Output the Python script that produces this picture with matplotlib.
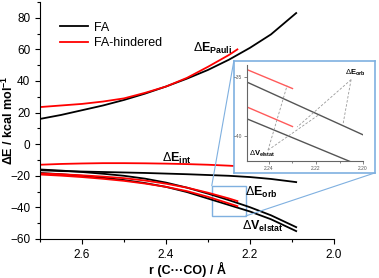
import matplotlib
matplotlib.use("Agg")
import matplotlib.pyplot as plt
from matplotlib.patches import Rectangle, ConnectionPatch
from matplotlib.ticker import MultipleLocator

plt.rcParams['font.family'] = ['Liberation Sans', 'DejaVu Sans']
plt.rcParams['mathtext.fontset'] = 'custom'
plt.rcParams['mathtext.rm'] = 'Liberation Sans'
plt.rcParams['mathtext.it'] = 'Liberation Sans:italic'
plt.rcParams['mathtext.bf'] = 'Liberation Sans:bold'

# FA curves (black)
r_fa = [2.70, 2.65, 2.60, 2.55, 2.50, 2.45, 2.40, 2.35, 2.30, 2.25, 2.20, 2.15, 2.09]
pauli_fa = [16.0, 18.5, 21.5, 24.5, 28.0, 32.0, 36.5, 41.5, 47.0, 53.5, 61.0, 69.5, 83.0]
int_fa = [-16.5, -17.0, -17.3, -17.6, -17.9, -18.2, -18.6, -19.0, -19.5, -20.0, -20.8, -22.0, -24.0]
orb_fa = [-16.0, -16.7, -17.6, -18.7, -20.0, -21.8, -24.3, -27.5, -31.3, -35.4, -39.9, -45.0, -52.5]
elstat_fa = [-18.2, -19.0, -20.0, -21.2, -22.7, -24.6, -27.0, -30.3, -34.4, -38.5, -42.6, -47.5, -55.0]

# FA-hindered curves (red)
r_fh = [2.70, 2.65, 2.60, 2.55, 2.50, 2.45, 2.40, 2.35, 2.30, 2.25, 2.23]
pauli_fh = [23.5, 24.5, 25.5, 27.0, 29.0, 32.5, 36.5, 42.0, 49.0, 56.5, 60.0]
int_fh = [-13.0, -12.5, -12.2, -12.0, -12.0, -12.1, -12.3, -12.6, -13.0, -13.6, -13.9]
orb_fh = [-18.5, -19.0, -19.7, -20.5, -21.5, -23.0, -25.0, -27.5, -30.7, -34.35, -36.0]
elstat_fh = [-19.2, -19.9, -20.8, -21.9, -23.2, -24.9, -27.0, -29.7, -33.3, -37.5, -39.2]

fig = plt.figure(figsize=(3.79, 2.78), dpi=100)
ax = fig.add_axes([0.1055, 0.1403, 0.7757, 0.8525])

lw = 1.3
ax.plot(r_fa, pauli_fa, color='black', lw=lw, label='FA')
ax.plot(r_fh, pauli_fh, color='red', lw=lw, label='FA-hindered')
for y in [int_fa, orb_fa, elstat_fa]:
    ax.plot(r_fa, y, color='black', lw=lw)
for y in [int_fh, orb_fh, elstat_fh]:
    ax.plot(r_fh, y, color='red', lw=lw)

ax.set_xlim(2.7, 2.0)
ax.set_ylim(-60, 90)
ax.set_xticks([2.6, 2.4, 2.2, 2.0])
ax.set_yticks([-60, -40, -20, 0, 20, 40, 60, 80])
ax.xaxis.set_minor_locator(MultipleLocator(0.1))
ax.yaxis.set_minor_locator(MultipleLocator(10))
ax.tick_params(labelsize=8.5, length=3.5, width=0.8)
ax.tick_params(which='minor', length=2, width=0.8)
ax.spines['top'].set_visible(False)
ax.spines['right'].set_visible(False)
fig.text(0.494, 0.032, 'r (C···CO) / Å', fontsize=9, fontweight='bold', ha='center', va='center')
fig.text(0.022, 0.567, r'ΔE / kcal mol$^{\mathbf{-1}}$', fontsize=9, fontweight='bold',
         ha='center', va='center', rotation=90)

ax.legend(loc='upper left', bbox_to_anchor=(0.03, 0.965), frameon=False, fontsize=9,
          handlelength=2.2, handletextpad=0.5, labelspacing=0.3)

lab = dict(fontsize=9, color='black')
ax.text(2.336, 58.5, r'$\Delta\mathbf{E}_{\mathbf{Pauli}}$', **lab)
ax.text(2.41, -11, r'$\Delta\mathbf{E}_{\mathbf{int}}$', **lab)
ax.text(2.213, -32.5, r'$\Delta\mathbf{E}_{\mathbf{orb}}$', **lab)
ax.text(2.22, -54, r'$\Delta\mathbf{V}_{\mathbf{elstat}}$', **lab)

# zoom box on the main plot
box_c = '#7fb0e0'
ax.add_patch(Rectangle((2.291, -45.4), 2.21 - 2.291, 19.1, fill=False, ec=box_c, lw=1))

# inset frame and inset axes
frame = fig.add_axes([0.617, 0.378, 0.372, 0.403])
frame.set_xticks([])
frame.set_yticks([])
for s in frame.spines.values():
    s.set_color(box_c)
    s.set_linewidth(1.2)

ins = fig.add_axes([0.6525, 0.421, 0.3055, 0.346])
ins.patch.set_alpha(0)
ins.plot(r_fa, orb_fa, color='#555555', lw=1)
ins.plot(r_fa, elstat_fa, color='#555555', lw=1)
ins.plot(r_fh, orb_fh, color='#ff5a5a', lw=1)
ins.plot(r_fh, elstat_fh, color='#ff5a5a', lw=1)
ins.set_xlim(2.2492, 2.20)
ins.set_ylim(-42.1, -34.0)
ins.set_xticks([2.24, 2.22, 2.20])
ins.set_yticks([-35, -40])
ins.xaxis.set_minor_locator(MultipleLocator(0.01))
ins.tick_params(labelsize=3.5, length=2, width=0.5, colors='#555555', pad=1.5)
ins.tick_params(which='minor', length=1.2, width=0.5, colors='#555555')
ins.spines['top'].set_visible(False)
ins.spines['right'].set_visible(False)
for s in ['left', 'bottom']:
    ins.spines[s].set_color('#666666')
    ins.spines[s].set_linewidth(0.8)

ins.text(2.2035, -34.66, r'$\Delta\mathbf{E}_{\mathbf{orb}}$', fontsize=5.5, ha='center', va='center')
ins.text(2.2485, -41.5, r'$\Delta\mathbf{V}_{\mathbf{elstat}}$', fontsize=5.5, ha='left', va='center')
dash = dict(color='#999999', lw=0.6, ls=(0, (3, 2)))
ins.plot([2.2051, 2.2085], [-35.25, -38.98], **dash)
ins.plot([2.2051, 2.228], [-35.25, -39.24], **dash)
ins.plot([2.2404, 2.2323], [-41.19, -35.76], **dash)
ins.plot([2.2404, 2.2183], [-41.19, -38.14], **dash)

# connector lines from the zoom box to the inset frame
for xy_main, xy_frame in [((2.291, -26.3), (0, 1)), ((2.21, -45.4), (1, 0))]:
    con = ConnectionPatch(xyA=xy_main, coordsA=ax.transData, xyB=xy_frame,
                          coordsB=frame.transAxes, color=box_c, lw=0.8)
    fig.add_artist(con)

fig.savefig('out.png', dpi=100)
